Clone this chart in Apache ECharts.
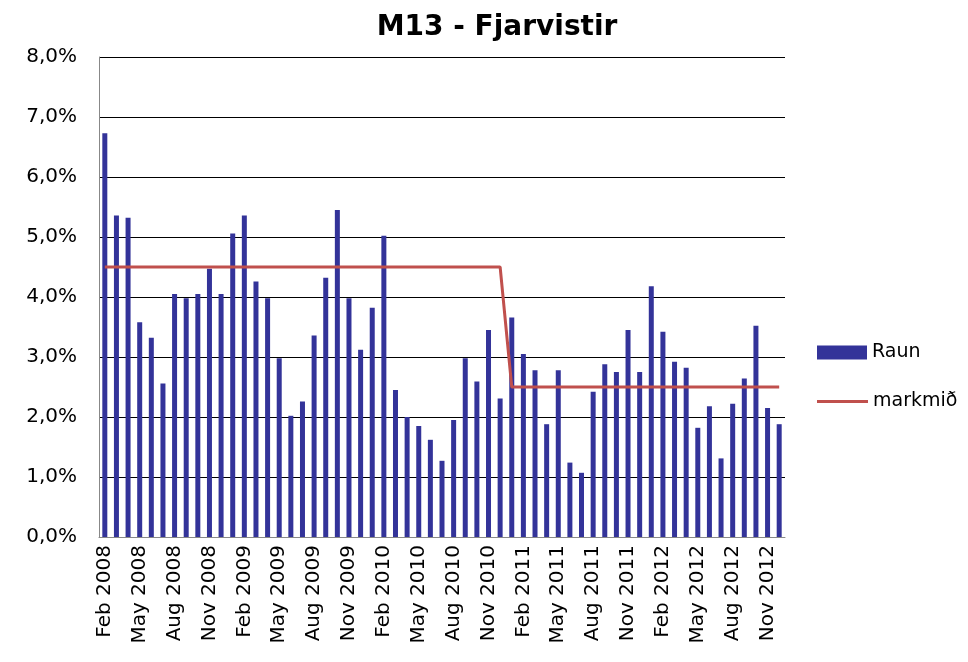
<!DOCTYPE html>
<html><head><meta charset="utf-8">
<script src="https://cdn.jsdelivr.net/npm/echarts@6/dist/echarts.min.js"></script>
<style>html,body{margin:0;padding:0;background:#fff}#c{width:968px;height:662px}</style>
</head><body><div id="c"></div>
<script>
const categories = [];
const monthNames = ['Jan','Feb','Mar','Apr','May','Jun','Jul','Aug','Sep','Oct','Nov','Dec'];
for (let y = 2008; y <= 2012; y++) for (let m = 0; m < 12; m++) {
  if (y === 2008 && m === 0) continue;
  categories.push(monthNames[m] + ' ' + y);
}
const raun = [6.73,5.36,5.32,3.58,3.32,2.56,4.05,3.98,4.05,4.47,4.05,5.06,5.36,4.26,3.98,2.98,2.02,2.26,3.36,4.32,
  5.45,3.98,3.12,3.82,5.02,2.45,2.0,1.85,1.62,1.27,1.95,2.98,2.59,3.45,2.31,3.66,3.05,2.78,1.88,2.78,
  1.24,1.07,2.42,2.88,2.75,3.45,2.75,4.18,3.42,2.92,2.82,1.82,2.18,1.31,2.22,2.64,3.52,2.15,1.88];
const markmid = [];
for (let i = 0; i < 59; i++) markmid.push(i < 35 ? 4.5 : 2.5);
const yTicks = [0,1,2,3,4,5,6,7,8];

const chart = echarts.init(document.getElementById('c'), null, {renderer:'canvas'});
const font = '"DejaVu Sans", Verdana, sans-serif';
chart.setOption({
  animation: false,
  title: {text: 'M13 - Fjarvistir', left: 492, textAlign: 'center', top: 9,
    textStyle: {fontFamily: font, fontSize: 28, fontWeight: 'bold', color: '#000'}},
  grid: {left: 99, right: 183, top: 57, bottom: 125},
  legend: [
    {orient: 'vertical', left: 812, top: 338, itemWidth: 50, itemHeight: 14,
      textStyle: {fontFamily: font, fontSize: 19, color: '#000'},
      data: [{name: 'Raun', icon: 'rect'}]},
    {orient: 'vertical', left: 812, top: 387, itemWidth: 51, itemHeight: 3,
      textStyle: {fontFamily: font, fontSize: 19, color: '#000'},
      data: [{name: 'markmið', icon: 'rect'}]}
  ],
  xAxis: {type: 'category', data: categories, boundaryGap: true,
    axisLine: {lineStyle: {color: '#888', width: 1}},
    axisTick: {show: false},
    axisLabel: {interval: 2, rotate: 90, fontFamily: font, fontSize: 20, color: '#000', margin: 8}},
  yAxis: {type: 'value', min: 0, max: 8, interval: 1,
    axisLine: {show: true, lineStyle: {color: '#888'}},
    axisTick: {show: false},
    splitLine: {lineStyle: {color: '#000', width: 1}},
    axisLabel: {fontFamily: font, fontSize: 20, color: '#000', margin: 22,
      formatter: v => v.toFixed(1).replace('.', ',') + '%'}},
  series: [
    {name: 'Raun', type: 'bar', data: raun, barWidth: 5, itemStyle: {color: '#333399'}},
    {name: 'markmið', type: 'line', data: markmid, symbol: 'none',
      lineStyle: {color: '#C0504D', width: 3}, itemStyle: {color: '#C0504D'}}
  ]
});
</script></body></html>
